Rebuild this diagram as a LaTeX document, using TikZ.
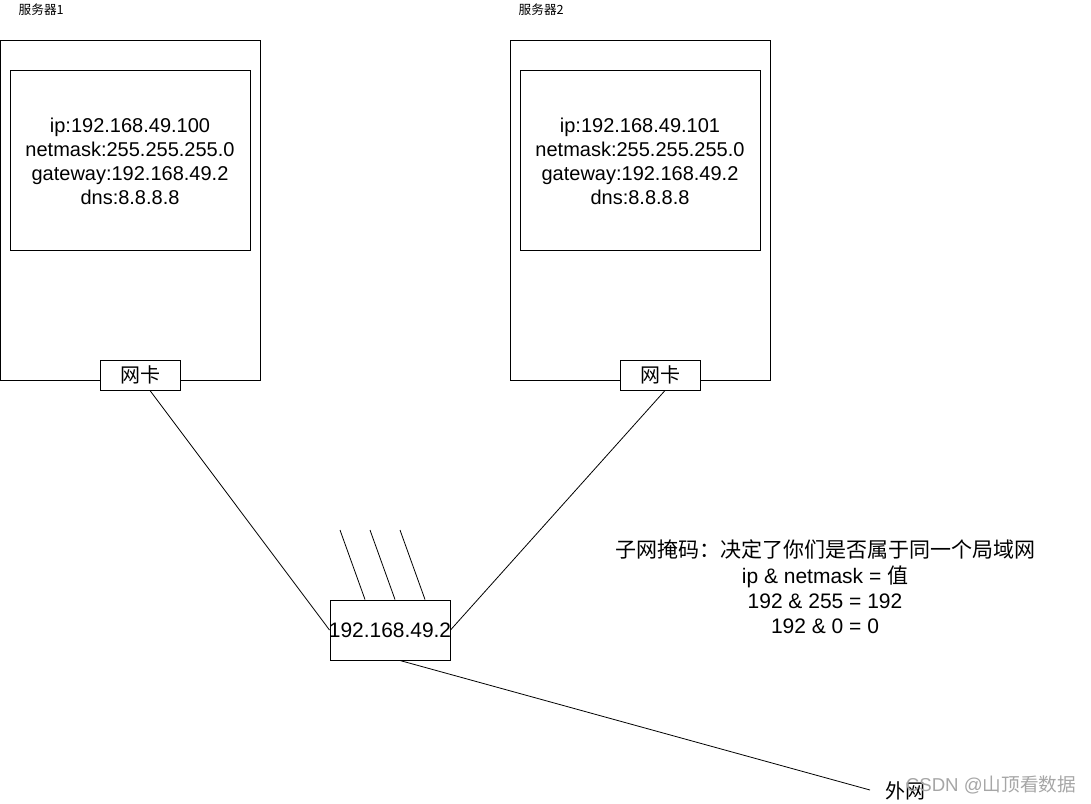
\documentclass[tikz,border=0pt]{standalone}
\usepackage{fontspec}
\setmainfont{Liberation Sans}
\newfontfamily\cjk{Noto Sans CJK SC}
\usetikzlibrary{positioning}

\begin{document}
\begin{tikzpicture}[x=0.75pt,y=-0.75pt,
  frame/.style={draw,line width=0.75pt},
  nic/.style={draw,line width=0.75pt,fill=white,inner sep=0pt,
    minimum width=60pt,minimum height=22.5pt,font=\cjk\fontsize{15}{18}\selectfont},
  cfg/.style={align=center,font=\fontsize{15}{18}\selectfont},
  tag/.style={anchor=west,font=\cjk\fontsize{9.5}{11}\selectfont},
  wire/.style={line width=0.6pt}]
\useasboundingbox (0,0) rectangle (1091,803);
% server 1
\node[tag] (tag1) at (14,10) {服务器1};
\draw[frame] (0.5,40) rectangle (260,380);
\draw[frame] (10,70) rectangle (250,250);
\node[cfg] (cfg1) at (130,161) {ip:192.168.49.100\\netmask:255.255.255.0\\gateway:192.168.49.2\\dns:8.8.8.8};
\node[nic] (nic1) at (140,375) {网卡};
% server 2
\node[tag] (tag2) at (514,10) {服务器2};
\draw[frame] (510,40) rectangle (770,380);
\draw[frame] (520,70) rectangle (760,250);
\node[cfg] (cfg2) at (640,161) {ip:192.168.49.101\\netmask:255.255.255.0\\gateway:192.168.49.2\\dns:8.8.8.8};
\node[nic] (nic2) at (660,375) {网卡};
% router (text runs over the box edge)
\node[draw,line width=0.75pt,inner sep=0pt,minimum width=90pt,minimum height=45pt,
  font=\fontsize{15.7}{19}\selectfont] (router) at (390,630) {\makebox[0pt]{192.168.49.2}};
\foreach \xa/\xb [count=\i] in {340/-18.75pt,370/3.75pt,400/26.25pt}
  \draw[wire] (\xa,530) coordinate (ant\i) -- ([xshift=\xb]router.north);
\draw[wire] ([xshift=7.5pt]nic1.south) -- (router.west);
\draw[wire] ([xshift=3.75pt]nic2.south) -- (router.east);
\coordinate (wan) at (870,790);
\draw[wire] ([xshift=7.5pt]router.south) -- (wan);
\node[anchor=west,font=\cjk\fontsize{15}{18}\selectfont] (wanlbl) at (881,791) {外网};
% note
\node[align=center,font=\fontsize{15.75}{19}\selectfont] (note) at (825,587)
  {{\cjk 子网掩码：决定了你们是否属于同一个局域网}\\ip \& netmask = {\cjk 值}\\192 \& 255 = 192\\192 \& 0 = 0};
% watermark
\node[text=black!35,font=\fontsize{14}{17}\selectfont] (mark) at (991,785) {CSDN @{\cjk 山顶看数据}};
\end{tikzpicture}
\end{document}
